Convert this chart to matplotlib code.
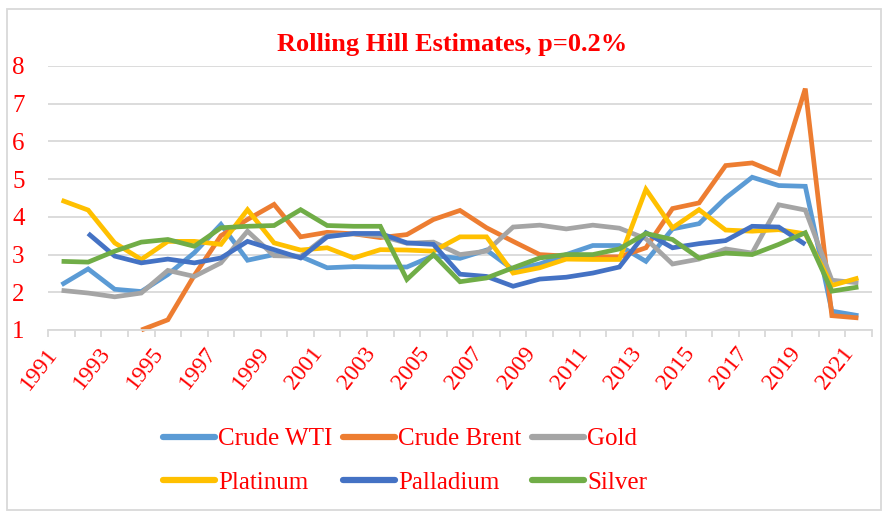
import numpy as np
import matplotlib
matplotlib.use("Agg")
import matplotlib.pyplot as plt
from matplotlib.patches import Rectangle

nan = np.nan
years = list(range(1991, 2022))
wti = [2.2, 2.62, 2.08, 2.02, 2.47, 3.05, 3.8, 2.85, 3.0, 2.95,
       2.65, 2.68, 2.67, 2.67, 2.97, 2.9, 3.12, 2.6, 2.75, 3.0,
       3.24, 3.24, 2.82, 3.68, 3.82, 4.5, 5.05, 4.83, 4.81, 1.5, 1.38]
brent = [nan, nan, nan, 1.0, 1.27, 2.45, 3.5, 3.93, 4.33, 3.47,
         3.59, 3.55, 3.45, 3.53, 3.93, 4.17, 3.71, 3.35, 3.0, 2.96,
         2.94, 2.94, 3.18, 4.22, 4.37, 5.36, 5.43, 5.14, 7.4, 1.38, 1.32]
gold = [2.05, 1.98, 1.88, 1.98, 2.58, 2.42, 2.78, 3.62, 2.97, 2.95,
        3.5, 3.55, 3.5, 3.3, 3.33, 3.0, 3.09, 3.73, 3.78, 3.68,
        3.78, 3.7, 3.42, 2.75, 2.88, 3.15, 3.04, 4.32, 4.18, 2.32, 2.25]
platinum = [4.44, 4.18, 3.31, 2.87, 3.35, 3.35, 3.27, 4.19, 3.31, 3.12,
            3.18, 2.91, 3.13, 3.12, 3.09, 3.47, 3.47, 2.51, 2.65, 2.88,
            2.87, 2.87, 4.73, 3.71, 4.19, 3.65, 3.62, 3.66, 3.55, 2.18, 2.38]
palladium = [nan, 3.56, 2.96, 2.78, 2.88, 2.78, 2.91, 3.35, 3.13, 2.91,
             3.47, 3.56, 3.56, 3.31, 3.27, 2.48, 2.42, 2.16, 2.35, 2.4,
             2.51, 2.67, 3.58, 3.18, 3.29, 3.37, 3.75, 3.73, 3.27, nan, nan]
silver = [2.82, 2.8, 3.09, 3.33, 3.4, 3.22, 3.71, 3.75, 3.77, 4.19,
          3.77, 3.75, 3.75, 2.34, 3.0, 2.28, 2.38, 2.65, 2.91, 3.0,
          3.0, 3.15, 3.56, 3.4, 2.91, 3.04, 3.0, 3.27, 3.58, 2.03, 2.14]

series = [("Crude WTI", wti, "#5B9BD5"),
          ("Crude Brent", brent, "#ED7D31"),
          ("Gold", gold, "#A5A5A5"),
          ("Platinum", platinum, "#FFC000"),
          ("Palladium", palladium, "#4472C4"),
          ("Silver", silver, "#70AD47")]

plt.rcParams['font.family'] = ['Liberation Serif', 'DejaVu Serif']

W, H = 884, 512
fig = plt.figure(figsize=(W / 100, H / 100), dpi=100)
ax = fig.add_axes([48.3 / W, 1 - 330 / H, (871.7 - 48.3) / W, (330 - 66) / H])

x = np.arange(len(years))
lines = {}
for name, vals, col in series:
    ln, = ax.plot(x, vals, color=col, lw=3.4, label=name, clip_on=False,
                  solid_joinstyle='miter', solid_capstyle='butt')
    lines[name] = ln

ax.set_xlim(-0.5, len(years) - 0.5)
ax.set_ylim(1, 8)
ax.set_yticks(range(1, 9))
ax.grid(axis='y', color='#D9D9D9', lw=1.3)
ax.set_axisbelow(True)
for s in ['left', 'right', 'top']:
    ax.spines[s].set_visible(False)
ax.spines['bottom'].set_color('#D9D9D9')
ax.spines['bottom'].set_linewidth(1.3)
ax.tick_params(axis='y', length=0, pad=17, labelsize=18, labelcolor='red')

# boundary tick marks
ax.set_xticks(np.arange(-0.5, len(years), 1.0))
ax.set_xticklabels([])
ax.tick_params(axis='x', which='major', length=5, width=1.3, color='#D9D9D9')
# labels every other year
lab_pos = x[::2]
ax.set_xticks(lab_pos, minor=True)
ax.set_xticklabels([str(years[i]) for i in lab_pos], minor=True,
                   rotation=52, ha='right', va='bottom', rotation_mode='anchor')
ax.tick_params(axis='x', which='minor', length=0, pad=19, labelsize=17, labelcolor='red')

fig.text(452 / W, 1 - 45 / H, "Rolling Hill Estimates, p=0.2%", color='red',
         fontsize=19, fontweight='bold', ha='center', va='center')

order = ["Crude WTI", "Platinum", "Crude Brent", "Palladium", "Gold", "Silver"]
leg = fig.legend([lines[n] for n in order], order, loc='center',
                 bbox_to_anchor=(405 / W, 1 - 461 / H), ncol=3, borderpad=0,
                 frameon=False, fontsize=18, handlelength=2.1, handletextpad=0.12,
                 columnspacing=0.4, labelspacing=0.85)
for t in leg.get_texts():
    t.set_color('red')
for h in leg.legend_handles:
    h.set_linewidth(4.5)
    h.set_solid_capstyle('round')

fig.patches.append(Rectangle((7 / W, 2 / H), (W - 10) / W, (H - 11) / H,
                             transform=fig.transFigure, fill=False,
                             edgecolor='#D9D9D9', lw=1.3))

fig.savefig("out.png", dpi=100)
